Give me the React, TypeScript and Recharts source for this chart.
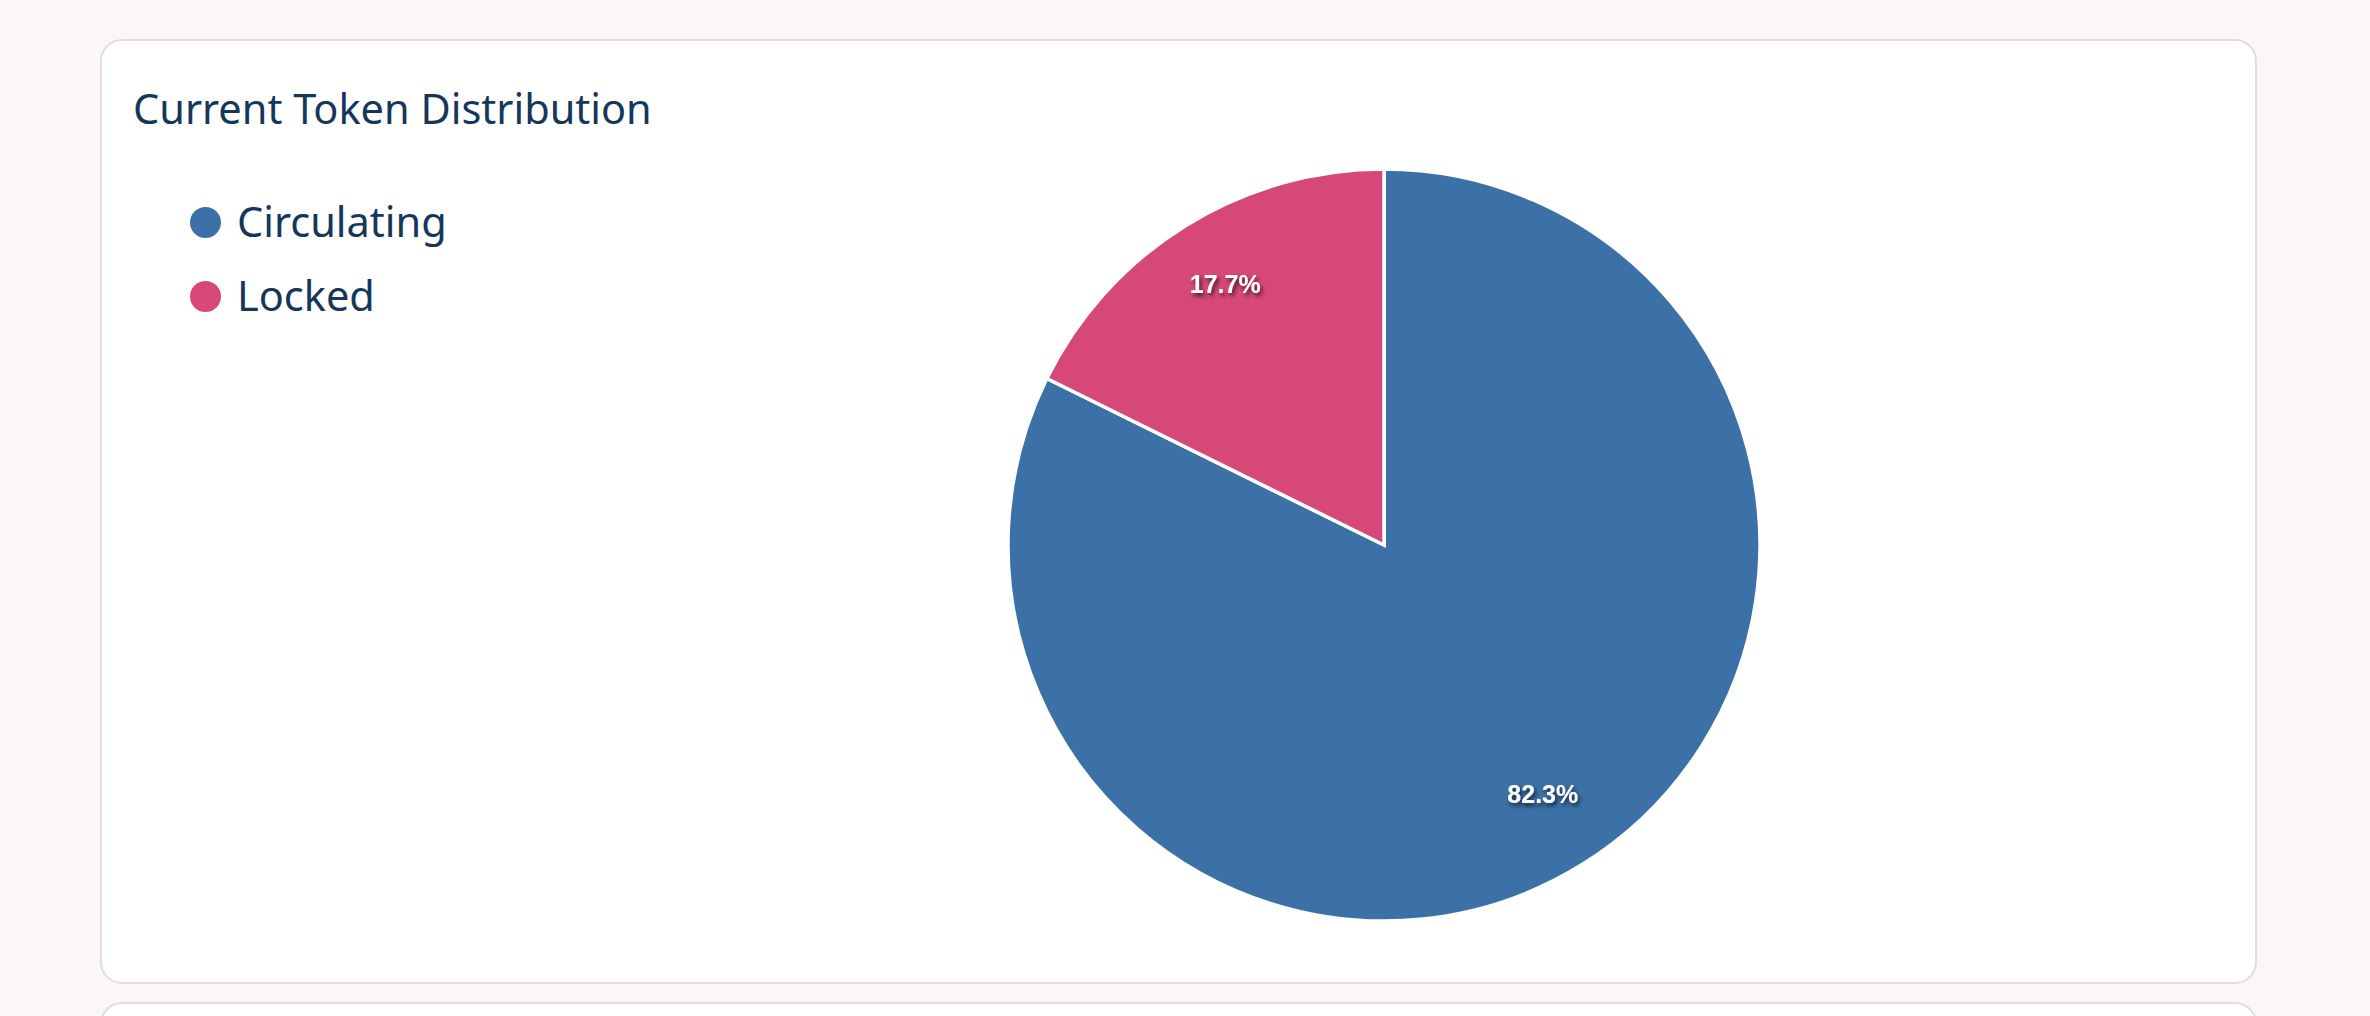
import React from 'react';
import { PieChart, Pie, Cell, Legend } from 'recharts';

const categories = ['Circulating', 'Locked'];
const shares = [82.3, 17.7];
const colors = ['#3c71a7', '#d64878'];
const title = 'Current Token Distribution';

const data = categories.map((name, i) => ({ name, value: shares[i] }));

const RAD = Math.PI / 180;
const textColor = '#15375a';
const uiFont = '"Noto Sans", sans-serif';

const renderLabel = (props: any) => {
  const { cx, cy, midAngle, outerRadius, index, value } = props;
  const r = outerRadius * 0.8;
  const x = cx + r * Math.cos(-midAngle * RAD);
  const y = cy + r * Math.sin(-midAngle * RAD) - 6;
  const id = `lblshadow${index}`;
  return (
    <g>
      <defs>
        <filter id={id} x="-30%" y="-50%" width="160%" height="200%">
          <feDropShadow dx="2" dy="3" stdDeviation="2" floodColor="#000" floodOpacity="0.7" />
        </filter>
      </defs>
      <text
        x={x}
        y={y}
        fill="#fff"
        textAnchor="middle"
        dominantBaseline="central"
        fontFamily='"Liberation Sans", Arial, sans-serif'
        fontWeight="bold"
        fontSize={25}
        filter={`url(#${id})`}
      >
        {`${Number(value).toFixed(1)}%`}
      </text>
    </g>
  );
};

const LegendContent = () => (
  <div style={{ fontFamily: uiFont }}>
    {categories.map((c, i) => (
      <div key={c} style={{ display: 'flex', alignItems: 'center', height: 74 }}>
        <span
          style={{
            width: 31,
            height: 31,
            borderRadius: '50%',
            background: colors[i],
            display: 'inline-block',
            marginRight: 16,
          }}
        />
        <span style={{ fontSize: 41.5, color: textColor, lineHeight: 1 }}>{c}</span>
      </div>
    ))}
  </div>
);

export default function App() {
  return (
    <div
      style={{
        position: 'absolute',
        left: 0,
        top: 0,
        width: 2370,
        height: 1016,
        background: '#fdf6f8',
        overflow: 'hidden',
      }}
    >
      <div
        style={{
          position: 'absolute',
          left: 100,
          top: 39,
          width: 2157,
          height: 945,
          boxSizing: 'border-box',
          border: '2px solid #dedede',
          borderRadius: 22,
          background: '#fff',
        }}
      >
        <div
          style={{
            position: 'absolute',
            left: 31,
            top: 46,
            fontFamily: uiFont,
            fontSize: 41.5,
            lineHeight: '42px',
            color: textColor,
            whiteSpace: 'nowrap',
          }}
        >
          {title}
        </div>
        <div style={{ position: 'absolute', left: 0, top: 0 }}>
          <PieChart width={2153} height={941} margin={{ top: 0, right: 0, bottom: 0, left: 0 }}>
            <Pie
              data={data}
              dataKey="value"
              nameKey="name"
              cx={1282}
              cy={504}
              outerRadius={376}
              startAngle={90}
              endAngle={-270}
              stroke="#fff"
              strokeWidth={3.5}
              label={renderLabel}
              labelLine={false}
              isAnimationActive={false}
            >
              {data.map((d, i) => (
                <Cell key={d.name} fill={colors[i]} />
              ))}
            </Pie>
            <Legend
              layout="horizontal"
              align="center"
              verticalAlign="middle"
              content={<LegendContent />}
              wrapperStyle={{ left: 88, top: 144, width: 'auto', height: 'auto' }}
            />
          </PieChart>
        </div>
      </div>
      <div
        style={{
          position: 'absolute',
          left: 100,
          top: 1002,
          width: 2157,
          height: 400,
          boxSizing: 'border-box',
          border: '2px solid #dedede',
          borderRadius: 22,
          background: '#fff',
        }}
      />
    </div>
  );
}
